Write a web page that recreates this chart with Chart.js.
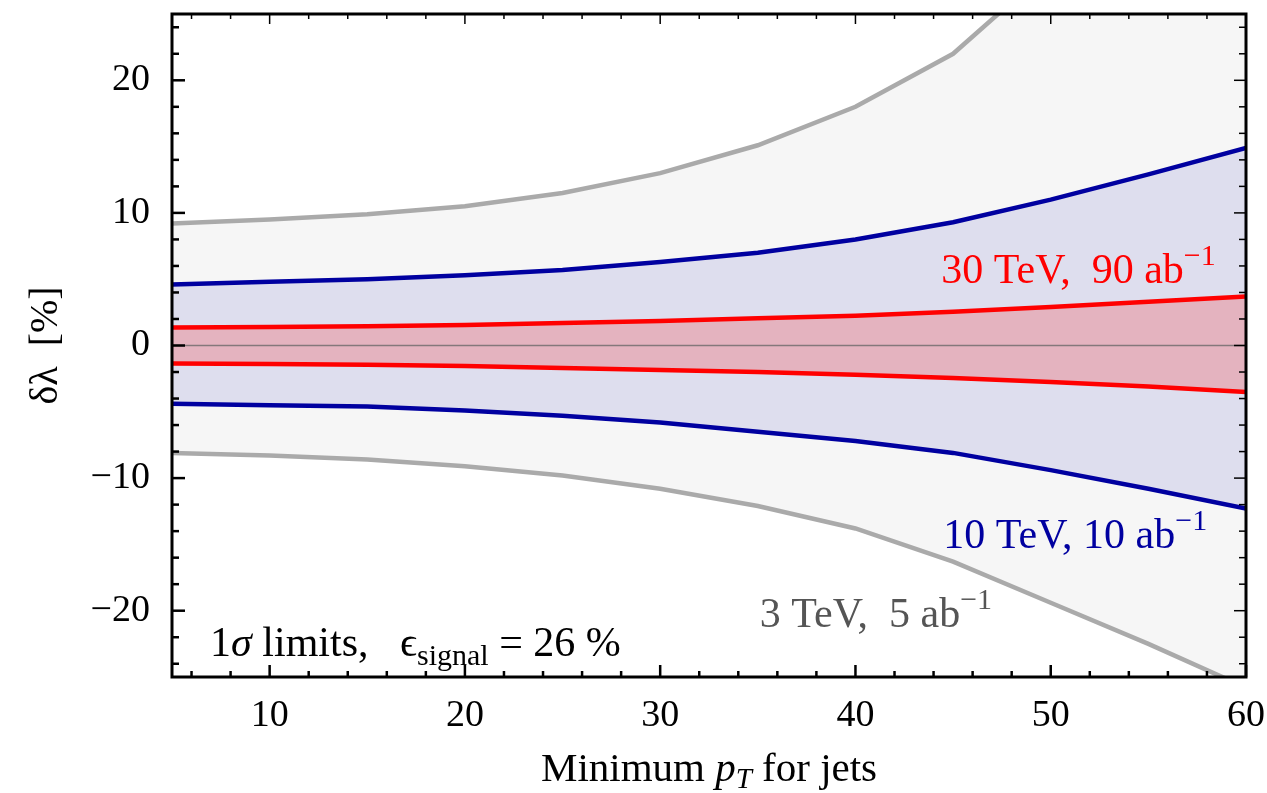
<!DOCTYPE html>
<html>
<head>
<meta charset="utf-8">
<script src="https://cdn.jsdelivr.net/npm/chart.js@4.4.1/dist/chart.umd.min.js"></script>
<style>
  html, body { margin: 0; padding: 0; background: #fff; }
  #wrap { width: 1267px; height: 793px; }
</style>
</head>
<body>
<div id="wrap"><canvas id="chart" width="1267" height="793"></canvas></div>
<script>
// minimum jet pT (GeV)
const ptValues = [5, 10, 15, 20, 25, 30, 35, 40, 45, 50, 55, 60];

// 1 sigma bands on delta lambda (%)
const tev3Upper  = [9.2, 9.5, 9.9, 10.5, 11.5, 13.0, 15.1, 18.0, 22.0, 28.5, 37.0, 47.0];
const tev3Lower  = [-8.1, -8.3, -8.6, -9.1, -9.8, -10.8, -12.1, -13.8, -16.3, -19.4, -22.5, -25.8];
const tev10Upper = [4.6, 4.8, 5.0, 5.3, 5.7, 6.3, 7.0, 8.0, 9.3, 11.0, 12.9, 14.9];
const tev10Lower = [-4.4, -4.5, -4.6, -4.9, -5.3, -5.8, -6.5, -7.2, -8.1, -9.4, -10.8, -12.3];
const tev30Upper = [1.35, 1.4, 1.45, 1.55, 1.7, 1.85, 2.05, 2.25, 2.55, 2.9, 3.3, 3.7];
const tev30Lower = [-1.35, -1.4, -1.45, -1.55, -1.7, -1.85, -2.0, -2.2, -2.45, -2.75, -3.1, -3.5];

const xTickValues = [10, 20, 30, 40, 50, 60];
const yTickValues = [-20, -10, 0, 10, 20];

const SERIF = '"Liberation Serif", "DejaVu Serif", serif';

function pts(ys) {
    return ptValues.map((x, i) => ({ x: x, y: ys[i] }));
}

function band(label, ys, color, fillColor, target, order) {
    return {
        label: label,
        data: pts(ys),
        borderColor: color,
        borderWidth: 4.5,
        pointRadius: 0,
        tension: 0,
        fill: target === null ? false : { target: target },
        backgroundColor: fillColor,
        order: order
    };
}

// draws a run of text pieces, each with its own font / vertical shift
function drawRuns(ctx, runs, x, y, color) {
    ctx.save();
    ctx.fillStyle = color;
    ctx.textBaseline = 'alphabetic';
    ctx.textAlign = 'left';
    let cx = x;
    runs.forEach(r => {
        ctx.font = (r.italic ? 'italic ' : '') + r.size + 'px ' + SERIF;
        ctx.fillText(r.t, cx, y + (r.dy || 0));
        cx += ctx.measureText(r.t).width + (r.gap || 0);
    });
    ctx.restore();
    return cx - x;
}

function measureRuns(ctx, runs) {
    ctx.save();
    let w = 0;
    runs.forEach(r => {
        ctx.font = (r.italic ? 'italic ' : '') + r.size + 'px ' + SERIF;
        w += ctx.measureText(r.t).width + (r.gap || 0);
    });
    ctx.restore();
    return w;
}

const labelRuns = {
    tev30: [{ t: '30 TeV,  90 ab', size: 42 }, { t: '\u22121', size: 30, dy: -18 }],
    tev10: [{ t: '10 TeV, 10 ab', size: 42 }, { t: '\u22121', size: 30, dy: -18 }],
    tev3:  [{ t: '3 TeV,  5 ab', size: 42 }, { t: '\u22121', size: 30, dy: -18 }],
    note:  [{ t: '1', size: 42 }, { t: '\u03c3', size: 42, italic: true }, { t: ' limits,   ', size: 42 },
            { t: '\u03f5', size: 42 }, { t: 'signal', size: 30, dy: 9 }, { t: ' = 26 %', size: 42 }]
};

// anchors in data coordinates (left edge, baseline)
const labelAnchors = [
    { key: 'tev30', x: 44.4, y: 4.75, color: '#ff0000' },
    { key: 'tev10', x: 44.5, y: -15.25, color: '#0000a0' },
    { key: 'tev3',  x: 35.1, y: -21.2, color: '#555555' },
    { key: 'note',  x: 6.95, y: -23.4, color: '#000000' }
];

const framePlugin = {
    id: 'frame',
    afterDatasetsDraw(chart) {
        const ctx = chart.ctx;
        const a = chart.chartArea;
        const xs = chart.scales.x, ys = chart.scales.y;

        // zero line
        ctx.save();
        ctx.beginPath();
        ctx.rect(a.left, a.top, a.right - a.left, a.bottom - a.top);
        ctx.clip();
        ctx.strokeStyle = 'rgba(100,100,100,0.75)';
        ctx.lineWidth = 1.5;
        const y0 = ys.getPixelForValue(0);
        ctx.beginPath();
        ctx.moveTo(a.left, y0);
        ctx.lineTo(a.right, y0);
        ctx.stroke();
        ctx.restore();

        // annotations
        labelAnchors.forEach(l => {
            drawRuns(ctx, labelRuns[l.key], xs.getPixelForValue(l.x), ys.getPixelForValue(l.y), l.color);
        });
    },
    afterDraw(chart) {
        const ctx = chart.ctx;
        const a = chart.chartArea;
        const xs = chart.scales.x, ys = chart.scales.y;
        ctx.save();
        ctx.strokeStyle = '#000';

        // inward ticks on all four sides
        for (let v = -24; v <= 24; v += 2) {
            const p = ys.getPixelForValue(v);
            const major = v % 10 === 0;
            ctx.lineWidth = 2.5;
            ctx.beginPath();
            ctx.moveTo(a.left, p); ctx.lineTo(a.left + (major ? 13 : 7), p);
            ctx.stroke();
            ctx.lineWidth = 1.5;
            ctx.beginPath();
            ctx.moveTo(a.right, p); ctx.lineTo(a.right - (major ? 12 : 7), p);
            ctx.stroke();
        }
        for (let v = 6; v <= 60; v += 2) {
            const p = xs.getPixelForValue(v);
            const major = v % 10 === 0;
            ctx.lineWidth = 2.5;
            ctx.beginPath();
            ctx.moveTo(p, a.bottom); ctx.lineTo(p, a.bottom - (major ? 12 : 6));
            ctx.stroke();
            ctx.lineWidth = 1.5;
            ctx.beginPath();
            ctx.moveTo(p, a.top); ctx.lineTo(p, a.top + (major ? 10 : 5));
            ctx.stroke();
        }

        // frame
        ctx.lineWidth = 3;
        ctx.strokeRect(a.left, a.top, a.right - a.left, a.bottom - a.top);
        ctx.restore();

        // x title
        const xt = [{ t: 'Minimum ', size: 41 }, { t: 'p', size: 41, italic: true },
                    { t: 'T', size: 29, italic: true, dy: 7 }, { t: ' for jets', size: 41 }];
        const w = measureRuns(ctx, xt);
        drawRuns(ctx, xt, (a.left + a.right) / 2 - w / 2, 781, '#000');

        // y title
        ctx.save();
        ctx.translate(57, (a.top + a.bottom) / 2);
        ctx.rotate(-Math.PI / 2);
        const yt = [{ t: '\u03b4\u03bb  [%]', size: 40 }];
        const wy = measureRuns(ctx, yt);
        drawRuns(ctx, yt, -wy / 2, 0, '#000');
        ctx.restore();
    }
};

const ctx = document.getElementById('chart').getContext('2d');
new Chart(ctx, {
    type: 'line',
    data: {
        datasets: [
            band('3 TeV upper', tev3Upper, '#aaaaaa', '#f6f6f6', 1, 3),
            band('3 TeV lower', tev3Lower, '#aaaaaa', '#f6f6f6', null, 3),
            band('10 TeV upper', tev10Upper, '#0000a0', '#dedeee', 3, 2),
            band('10 TeV lower', tev10Lower, '#0000a0', '#dedeee', null, 2),
            band('30 TeV upper', tev30Upper, '#ff0000', '#e4b3bf', 5, 1),
            band('30 TeV lower', tev30Lower, '#ff0000', '#e4b3bf', null, 1)
        ]
    },
    options: {
        responsive: false,
        animation: false,
        layout: { padding: { top: 14, right: 21, left: 0, bottom: 0 } },
        plugins: {
            legend: { display: false },
            tooltip: { enabled: false },
            filler: { drawTime: 'beforeDatasetsDraw' }
        },
        scales: {
            x: {
                type: 'linear',
                min: 5, max: 60,
                grid: { display: false },
                border: { display: false },
                afterBuildTicks: s => { s.ticks = xTickValues.map(v => ({ value: v })); },
                afterFit: s => { s.height = 116; s.paddingLeft = 0; s.paddingRight = 0; },
                ticks: {
                    color: '#000',
                    padding: 8,
                    maxRotation: 0,
                    font: { family: SERIF, size: 38 }
                }
            },
            y: {
                type: 'linear',
                min: -25, max: 25,
                grid: { display: false },
                border: { display: false },
                afterBuildTicks: s => { s.ticks = yTickValues.map(v => ({ value: v })); },
                afterFit: s => { s.width = 172; s.paddingTop = 0; s.paddingBottom = 0; },
                ticks: {
                    color: '#000',
                    padding: 14,
                    font: { family: SERIF, size: 38 },
                    callback: v => (v < 0 ? '\u2212' + Math.abs(v) : String(v))
                }
            }
        }
    },
    plugins: [framePlugin]
});
</script>
</body>
</html>
